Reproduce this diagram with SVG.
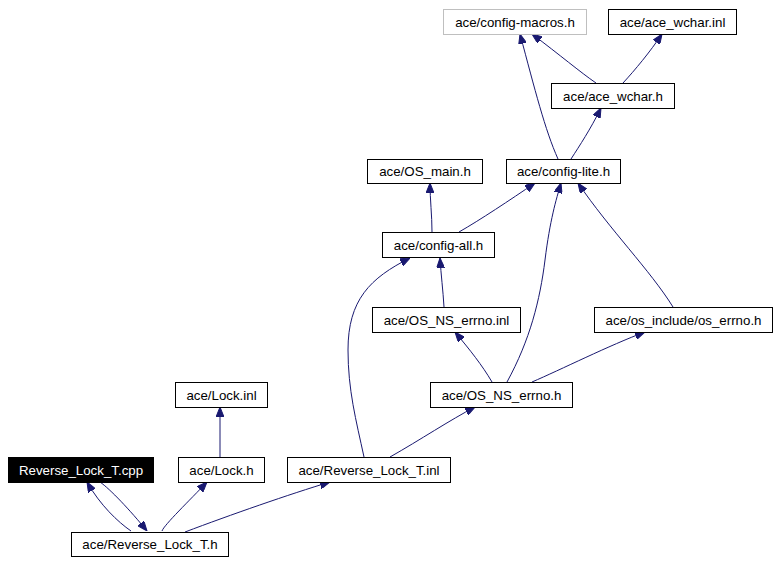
<svg xmlns="http://www.w3.org/2000/svg" width="779" height="563" viewBox="0 0 779 563">
<style>
.n rect{fill:#fff;stroke:#000;stroke-width:1}
.n text{font-family:"Liberation Sans",Arial,sans-serif;font-size:13.3px;text-anchor:middle;fill:#000}
.g rect{stroke:#bfbfbf}
.cur rect{fill:#000}
.cur text{fill:#fff}
#edges path{fill:none;stroke:#191970;stroke-width:1;marker-end:url(#ah)}
</style>
<defs>
<marker id="ah" viewBox="0 0 10 8" refX="10" refY="4" markerWidth="10" markerHeight="8" markerUnits="userSpaceOnUse" orient="auto">
<path d="M0,0 L10,4 L0,8 z" fill="#191970" stroke="#191970" stroke-width="1"/>
</marker>
</defs>
<rect width="779" height="563" fill="#fff"/>
<g id="edges">
<path d="M131,531 C118,522 100,505 87,482"/>
<path d="M100,482 C110,489 130,510 147,531"/>
<path d="M162,531 C164,525 190,500 207,482"/>
<path d="M185,532 C230,515 290,494 330,482"/>
<path d="M220,457 L220,407"/>
<path d="M364,457 C356,420 348,390 348,350 C348,300 370,278 410,258"/>
<path d="M390,457 C420,440 450,420 475,407"/>
<path d="M492,382 C482,365 470,350 455,332"/>
<path d="M507,382 C530,340 540,300 545,260 C550,220 556,200 561,183"/>
<path d="M532,382 C560,370 610,345 645,332"/>
<path d="M673,307 C650,270 610,230 578,183"/>
<path d="M459,232 C480,220 510,200 535,183"/>
<path d="M432,232 C432,215 430,200 430,183"/>
<path d="M444,307 C443,290 441,275 440,258"/>
<path d="M558,159 C545,130 535,90 520,34"/>
<path d="M571,159 C580,145 590,130 601,108"/>
<path d="M596,83 C580,72 560,55 532,34"/>
<path d="M623,83 C635,70 650,52 662,34"/>
</g>
<g id="n_config_macros" class="n g"><rect x="443.5" y="9.5" width="143" height="25"/><text x="515" y="26.5">ace/config-macros.h</text></g>
<g id="n_ace_wchar_inl" class="n"><rect x="608.5" y="9.5" width="128" height="25"/><text x="672.5" y="26.5">ace/ace_wchar.inl</text></g>
<g id="n_ace_wchar_h" class="n"><rect x="551.5" y="83.5" width="123" height="25"/><text x="613" y="100.5">ace/ace_wchar.h</text></g>
<g id="n_os_main" class="n"><rect x="367.5" y="159.5" width="115" height="24"/><text x="425" y="176">ace/OS_main.h</text></g>
<g id="n_config_lite" class="n"><rect x="506.5" y="159.5" width="114" height="24"/><text x="563.5" y="176">ace/config-lite.h</text></g>
<g id="n_config_all" class="n"><rect x="382.5" y="232.5" width="112" height="25"/><text x="438.5" y="249.5">ace/config-all.h</text></g>
<g id="n_os_ns_errno_inl" class="n"><rect x="372.5" y="307.5" width="148" height="25"/><text x="446.5" y="324.5">ace/OS_NS_errno.inl</text></g>
<g id="n_os_errno" class="n"><rect x="594.5" y="307.5" width="178" height="25"/><text x="683.5" y="324.5">ace/os_include/os_errno.h</text></g>
<g id="n_os_ns_errno_h" class="n"><rect x="430.5" y="382.5" width="142" height="25"/><text x="501.5" y="399.5">ace/OS_NS_errno.h</text></g>
<g id="n_lock_inl" class="n"><rect x="175.5" y="382.5" width="92" height="25"/><text x="221.5" y="399.5">ace/Lock.inl</text></g>
<g id="n_cpp" class="n cur"><rect x="8.5" y="457.5" width="145" height="25"/><text x="81" y="474.5">Reverse_Lock_T.cpp</text></g>
<g id="n_lock_h" class="n"><rect x="178.5" y="457.5" width="86" height="25"/><text x="221.5" y="474.5">ace/Lock.h</text></g>
<g id="n_rlt_inl" class="n"><rect x="287.5" y="457.5" width="163" height="25"/><text x="369" y="474.5">ace/Reverse_Lock_T.inl</text></g>
<g id="n_rlt_h" class="n"><rect x="71.5" y="532.5" width="157" height="24"/><text x="150" y="549">ace/Reverse_Lock_T.h</text></g>
</svg>
